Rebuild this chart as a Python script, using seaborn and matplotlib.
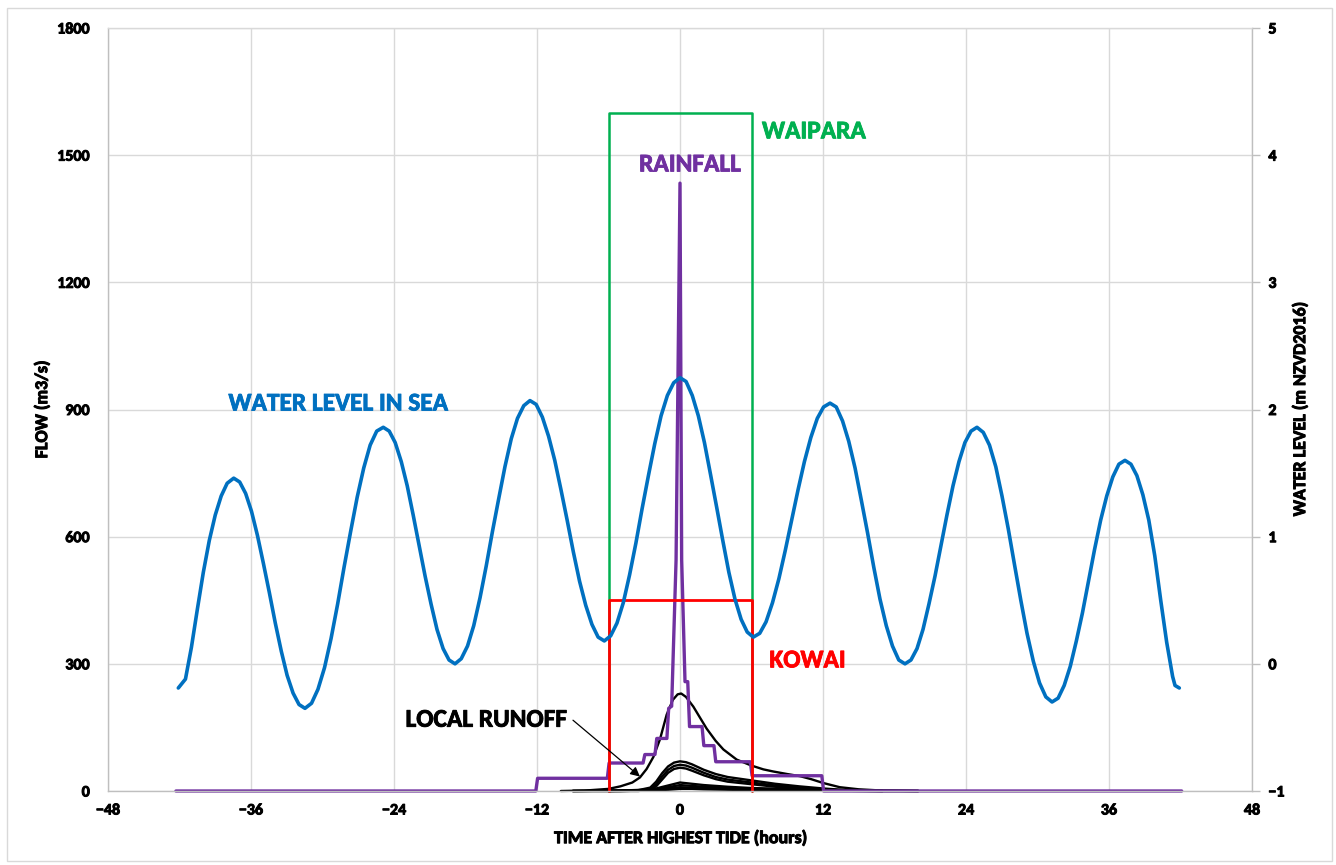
import matplotlib
matplotlib.use("Agg")
import matplotlib.pyplot as plt
import matplotlib.patheffects as pe
import seaborn as sns
from matplotlib.patches import Rectangle

# sea water level (m NZVD2016)
tide_t = [
    -42.1, -41.5, -41.0, -40.5, -40.0, -39.5, -39.0, -38.5, -38.0,
    -37.45, -36.95, -36.45, -35.96, -35.46, -34.96, -34.46, -33.96, -33.46, -32.97, -32.47, -31.97,
    -31.47, -30.92, -30.38, -29.83, -29.28, -28.73, -28.19, -27.64, -27.09, -26.54, -26.00, -25.45,
    -24.90, -24.40, -23.90, -23.39, -22.89, -22.39, -21.89, -21.39, -20.89, -20.39, -19.88, -19.38,
    -18.88, -18.36, -17.83, -17.31, -16.78, -16.26, -15.74, -15.21, -14.69, -14.16, -13.64, -13.11,
    -12.59, -12.07, -11.55, -11.03, -10.51, -9.99, -9.47, -8.95, -8.43, -7.91, -7.39, -6.87,
    -6.35, -5.82, -5.29, -4.76, -4.23, -3.70, -3.18, -2.65, -2.12, -1.59, -1.06, -0.53,
    0.00, 0.51, 1.03, 1.54, 2.05, 2.56, 3.08, 3.59, 4.10, 4.61, 5.13, 5.64,
    6.15, 6.69, 7.22, 7.76, 8.30, 8.83, 9.37, 9.91, 10.44, 10.98, 11.52, 12.05,
    12.59, 13.11, 13.64, 14.16, 14.69, 15.21, 15.74, 16.26, 16.78, 17.31, 17.83, 18.36,
    18.88, 19.38, 19.89, 20.39, 20.89, 21.40, 21.90, 22.40, 22.91, 23.41, 23.91, 24.42,
    24.92, 25.45, 25.97, 26.50, 27.02, 27.55, 28.07, 28.60, 29.12, 29.65, 30.17, 30.70,
    31.22, 31.73, 32.24, 32.75, 33.26, 33.77, 34.28, 34.79, 35.30, 35.81, 36.32, 36.83,
    37.34, 37.84, 38.34, 38.84, 39.34, 39.84, 40.34, 40.84, 41.34, 41.54, 41.90,
]
tide_lvl = [
    -0.19, -0.12, 0.13, 0.43, 0.72, 0.97, 1.17, 1.32, 1.42,
    1.46, 1.43, 1.34, 1.20, 1.01, 0.79, 0.56, 0.32, 0.10, -0.09, -0.23, -0.32,
    -0.35, -0.31, -0.20, -0.03, 0.20, 0.47, 0.76, 1.04, 1.31, 1.54, 1.72, 1.83,
    1.86, 1.83, 1.74, 1.59, 1.40, 1.17, 0.93, 0.69, 0.47, 0.27, 0.12, 0.03,
    0.00, 0.04, 0.14, 0.30, 0.52, 0.77, 1.04, 1.30, 1.55, 1.77, 1.93, 2.03,
    2.07, 2.04, 1.94, 1.79, 1.60, 1.37, 1.13, 0.88, 0.65, 0.46, 0.31, 0.21,
    0.18, 0.22, 0.32, 0.48, 0.70, 0.95, 1.22, 1.48, 1.73, 1.95, 2.11, 2.21,
    2.25, 2.22, 2.11, 1.95, 1.74, 1.49, 1.23, 0.97, 0.72, 0.51, 0.35, 0.25,
    0.21, 0.24, 0.33, 0.48, 0.67, 0.89, 1.13, 1.37, 1.59, 1.78, 1.93, 2.02,
    2.05, 2.02, 1.91, 1.75, 1.54, 1.29, 1.03, 0.76, 0.51, 0.30, 0.14, 0.03,
    0.00, 0.03, 0.12, 0.27, 0.47, 0.69, 0.93, 1.17, 1.40, 1.59, 1.74, 1.83,
    1.86, 1.82, 1.72, 1.55, 1.32, 1.06, 0.78, 0.50, 0.24, 0.02, -0.15, -0.26,
    -0.30, -0.27, -0.17, -0.02, 0.18, 0.40, 0.65, 0.90, 1.13, 1.32, 1.47, 1.57,
    1.60, 1.57, 1.48, 1.33, 1.13, 0.85, 0.50, 0.17, -0.10, -0.17, -0.19,
]

# rainfall trace (plotted on flow axis)
rain_t = [-42.3, -12.1, -11.95, -6.1, -5.95, -3.1, -2.95, -2.1, -1.95, -1.1, -0.95, -0.7,
          -0.33, 0.0, 0.14, 0.42, 0.65, 0.8, 1.85, 2.0, 2.85, 3.0, 5.9, 6.05, 11.9, 12.05, 42.1]
rain_q = [0, 0, 30, 30, 66, 66, 86, 86, 124, 124, 195, 200,
          545, 1434, 545, 258, 258, 152, 152, 107, 107, 69, 69, 36, 36, 0, 0]

# local runoff hydrographs (m3/s)
big_t = [-10, -8, -6, -5, -4, -3.36, -2.8, -2.24, -1.68, -1.12, -0.6, -0.2, 0.1, 0.5, 1.12,
         1.7, 2.24, 3.0, 3.64, 4.76, 6.0, 7.0, 7.83, 9.0, 10.07, 11.0, 12.0, 13.4, 15.0, 17.0, 20.0]
big_q = [0, 1, 5, 11, 20, 32, 52, 80, 122, 180, 215, 228, 230, 222, 199,
         172, 147, 118, 98, 74, 60, 51, 46, 40, 35, 28, 19, 9, 4, 1, 0]

mid_t = [-6, -3.5, -2.5, -2.0, -1.5, -1.0, -0.5, 0, 0.5, 1.0, 2.0, 3.0, 4.0, 6.0, 8.0, 10.0, 12.0, 14.0, 17.0]
mid_a = [0, 2, 8, 22, 42, 58, 67, 70, 68, 63, 50, 40, 33, 25, 17, 11, 6, 2, 0]
mid_b = [0, 1, 5, 16, 34, 50, 59, 62, 60, 55, 43, 33, 27, 20, 13, 8, 4, 1, 0]
mid_c = [0, 0, 3, 11, 27, 43, 52, 55, 53, 48, 37, 28, 22, 16, 10, 6, 3, 1, 0]

small_t = [-9, -5, -3, -2, -1, 0, 1, 2, 4, 6, 9, 12, 16, 20]
small_d = [0, 1, 3, 6, 13, 20, 17, 14, 10, 7, 5, 3, 1, 0]
small_e = [0, 1, 2, 4, 9, 14, 12, 10, 7, 5, 3, 2, 1, 0]
small_f = [0, 0, 1, 3, 6, 9, 8, 7, 5, 4, 2, 1, 0, 0]
small_g = [0, 0, 1, 2, 3, 5, 5, 4, 3, 2, 1, 1, 0, 0]

# catchment flow envelopes
box_t = [-6, -6, 6, 6]
waipara_q = [0, 1600, 1600, 0]
kowai_q = [0, 450, 450, 0]

x_ticks = list(range(-48, 49, 12))
flow_ticks = list(range(0, 1801, 300))
level_ticks = list(range(-1, 6))

BLUE = "#0070C0"
PURPLE = "#7030A0"
GREEN = "#00B050"
RED = "#FF0000"
GRID = "#D9D9D9"
SPINE = "#BFBFBF"

sns.set_style("white")
plt.rcParams["font.family"] = ["Carlito", "DejaVu Sans"]
plt.rcParams["font.weight"] = "bold"
plt.rcParams["text.color"] = "black"
plt.rcParams["axes.labelcolor"] = "black"
plt.rcParams["axes.labelweight"] = "bold"

W, H = 1336, 865
fig = plt.figure(figsize=(W / 100, H / 100), dpi=100)
ax = fig.add_axes([108 / W, 1 - 791 / H, 1144 / W, 763 / H])
ax2 = ax.twinx()

line_kw = dict(sort=False, estimator=None, legend=False)

sns.lineplot(x=box_t, y=waipara_q, ax=ax, color=GREEN, lw=1.8, **line_kw)
for qs, ts in [(big_q, big_t), (mid_a, mid_t), (mid_b, mid_t), (mid_c, mid_t),
               (small_d, small_t), (small_e, small_t), (small_f, small_t), (small_g, small_t)]:
    sns.lineplot(x=ts, y=qs, ax=ax, color="black", lw=1.7, **line_kw)
sns.lineplot(x=rain_t, y=rain_q, ax=ax, color=PURPLE, lw=2.4, **line_kw)
sns.lineplot(x=box_t, y=kowai_q, ax=ax, color=RED, lw=2.0, **line_kw)
for ln in ax.lines:
    ln.set_clip_on(False)

sns.lineplot(x=tide_t, y=tide_lvl, ax=ax2, color=BLUE, lw=2.6, **line_kw)

ax.set_xlim(-48, 48)
ax.set_ylim(0, 1800)
ax2.set_ylim(-1, 5)
ax.set_xticks(x_ticks)
ax.set_yticks(flow_ticks)
ax2.set_yticks(level_ticks)
ax.grid(True, color=GRID, lw=1)
ax.set_axisbelow(True)

for sp in ax.spines.values():
    sp.set_color(SPINE)
    sp.set_linewidth(1)
ax.spines["top"].set_color(GRID)
for sp in ax2.spines.values():
    sp.set_visible(False)

ax.tick_params(axis="x", length=0, labelsize=11.5, pad=9, labelcolor="black")
ax.tick_params(axis="y", length=0, labelsize=11.5, pad=13, labelcolor="black")
ax2.tick_params(axis="y", length=5.8, width=1, color=SPINE, labelsize=11.5, pad=6,
                direction="out", labelcolor="black")

heavy = [pe.withStroke(linewidth=0.7, foreground="black")]
for lbl in ax.get_xticklabels() + ax.get_yticklabels() + ax2.get_yticklabels():
    lbl.set_fontweight("bold")
    lbl.set_path_effects(heavy)

ax.set_xlabel("TIME AFTER HIGHEST TIDE (hours)", fontsize=12.9, fontweight="bold", va="center")
ax.xaxis.set_label_coords(0.5, (791 - 838) / 763)
ax.set_ylabel("FLOW (m3/s)", fontsize=12.9, fontweight="bold", va="center")
ax.yaxis.set_label_coords((42 - 108) / 1144, 0.5)
ax2.set_ylabel("WATER LEVEL (m NZVD2016)", fontsize=12.9, fontweight="bold", va="center")
ax2.yaxis.set_label_coords((1300 - 108) / 1144, 0.5)
for lab in (ax.xaxis.label, ax.yaxis.label, ax2.yaxis.label):
    lab.set_path_effects(heavy)

lab_kw = dict(fontsize=18.3, fontweight="bold", va="center")
notes = [
    (6.88, 1555, "WAIPARA", GREEN, "left"),
    (0.84, 1477, "RAINFALL", PURPLE, "center"),
    (-28.66, 913, "WATER LEVEL IN SEA", BLUE, "center"),
    (10.7, 307, "KOWAI", RED, "center"),
    (-9.48, 167, "LOCAL RUNOFF", "black", "right"),
]
for x, y, s, c, ha in notes:
    ax.text(x, y, s, color=c, ha=ha, path_effects=[pe.withStroke(linewidth=0.6, foreground=c)],
            **lab_kw)
ax.annotate("", xy=(-3.36, 34), xytext=(-8.98, 167),
            arrowprops=dict(arrowstyle="-|>", color="black", lw=0.9, mutation_scale=14,
                            shrinkA=0, shrinkB=0))

fig.add_artist(Rectangle((7 / W, 1 - 861 / H), (1332 - 7) / W, (861 - 8) / H,
                         transform=fig.transFigure, fill=False, ec=GRID, lw=1))

fig.savefig("out.png", dpi=100)
